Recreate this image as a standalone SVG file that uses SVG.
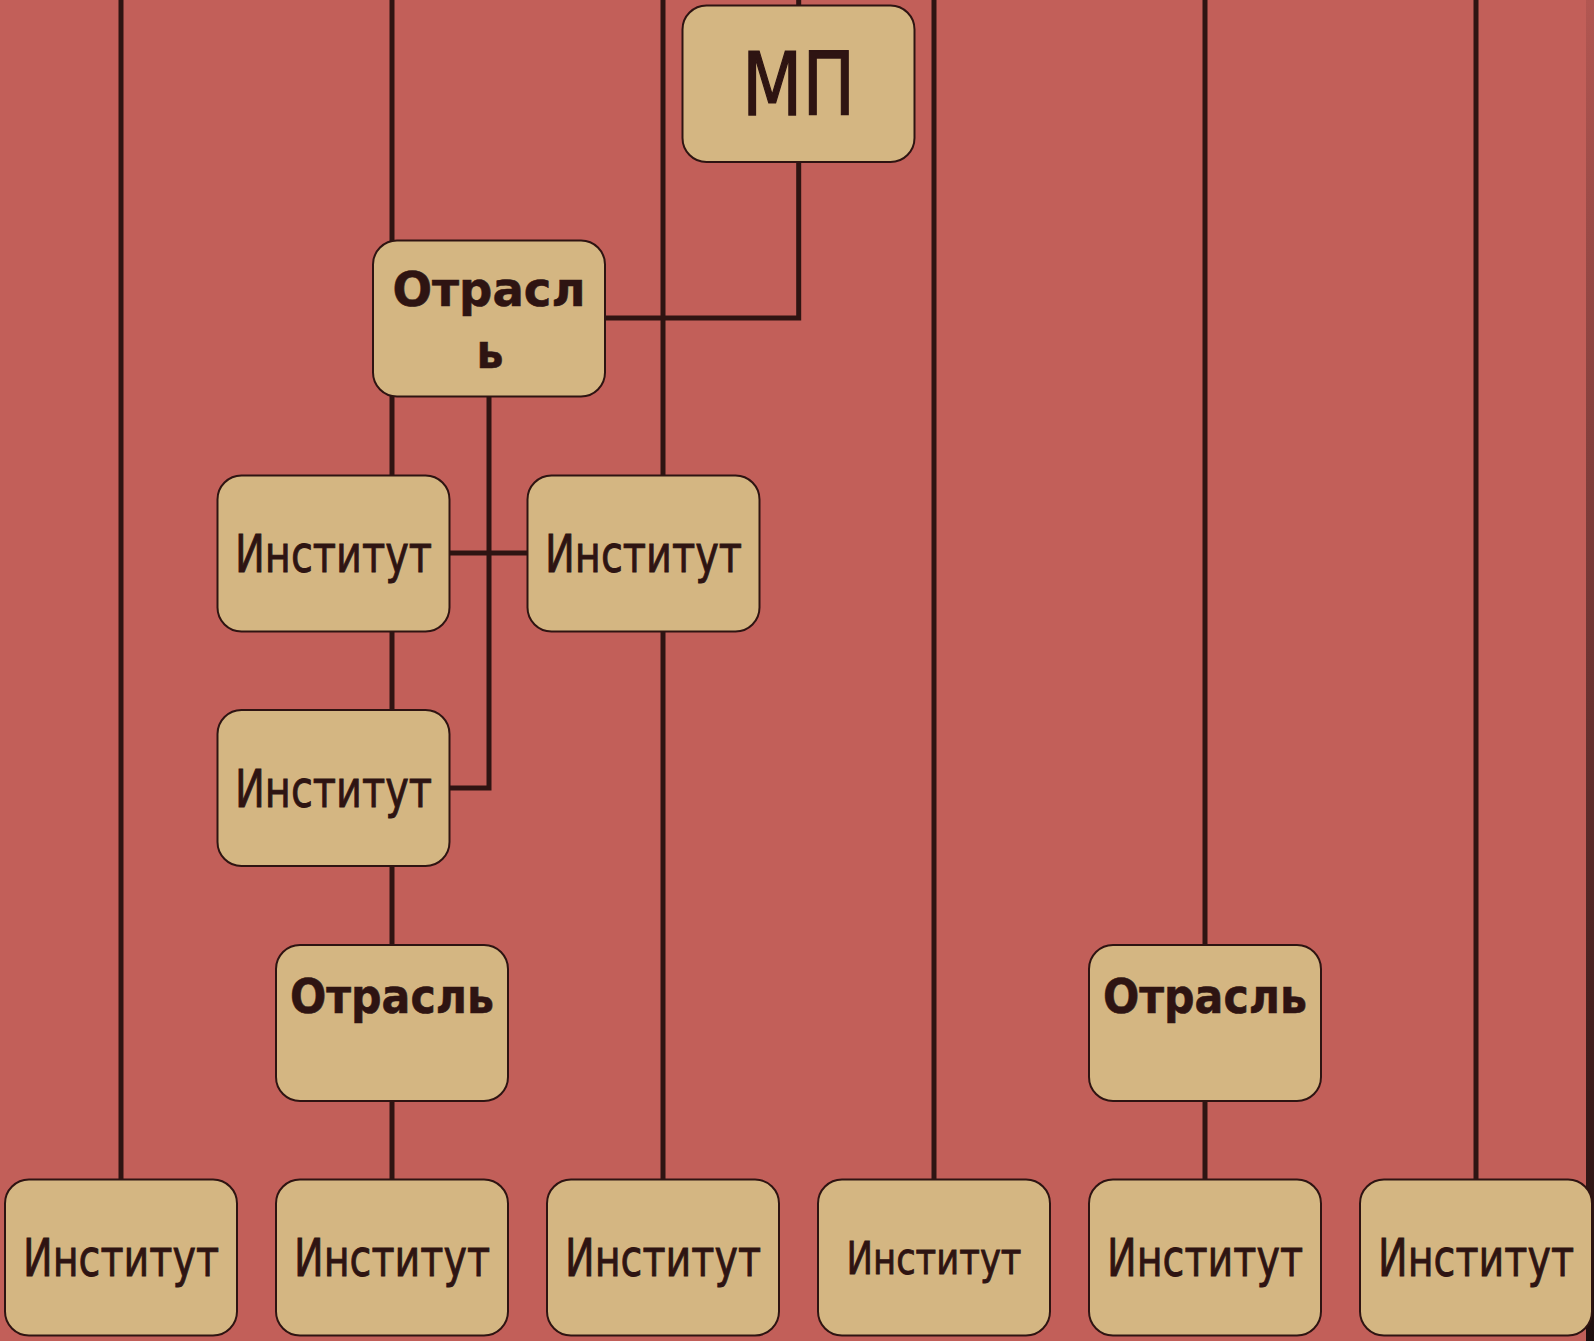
<svg xmlns="http://www.w3.org/2000/svg" width="1594" height="1341" viewBox="0 0 1594 1341">
<defs>
<linearGradient id="edge" x1="0" y1="0" x2="0" y2="1">
<stop offset="0" stop-color="#b25752"/>
<stop offset="0.5" stop-color="#6c3432"/>
<stop offset="1" stop-color="#1e0e0e"/>
</linearGradient>
<style>
.box{fill:#d4b682;stroke:#2e1412;stroke-width:2}
.ln{fill:none;stroke:#2e1412;stroke-width:5}
.t{font-family:"DejaVu Sans","Liberation Sans",sans-serif;fill:#2e1412;stroke:#2e1412;stroke-width:0.9;text-anchor:middle}
.r{font-size:51px}
.s{font-size:44px}
.b{font-size:48px;font-weight:bold;stroke-width:0.6}
.m{font-size:87px;stroke-width:1.4}
</style>
</defs>
<rect width="1594" height="1341" fill="#c25f59"/>
<rect x="1586" y="0" width="8" height="1341" fill="url(#edge)"/>
<g id="connectors">
<path class="ln" d="M121 0V1180M392 0V1180M663 0V1180M934 0V1180M1205 0V1180M1476 0V1180"/>
<path class="ln" d="M798.7 0V6M798.7 162V318H605"/>
<path class="ln" d="M489 396V788H450"/>
<path class="ln" d="M450 553H527"/>
</g>
<g id="mp">
<rect class="box" x="682.5" y="5.5" width="232" height="156.5" rx="24"/>
<text class="t m" x="798.5" y="115" textLength="113" lengthAdjust="spacingAndGlyphs">МП</text>
</g>
<g id="otrasl1">
<rect class="box" x="373" y="240.5" width="232" height="156" rx="24"/>
<text class="t b" x="489" y="306" textLength="193" lengthAdjust="spacingAndGlyphs">Отрасл</text>
<text class="t b" x="490" y="368" textLength="27" lengthAdjust="spacingAndGlyphs">ь</text>
</g>
<g id="inst-l1">
<rect class="box" x="217.5" y="475.5" width="232" height="156" rx="24"/>
<text class="t r" x="333.5" y="572" textLength="197" lengthAdjust="spacingAndGlyphs">Институт</text>
</g>
<g id="inst-r1">
<rect class="box" x="527.5" y="475.5" width="232" height="156" rx="24"/>
<text class="t r" x="643.5" y="572" textLength="197" lengthAdjust="spacingAndGlyphs">Институт</text>
</g>
<g id="inst-l2">
<rect class="box" x="217.5" y="710" width="232" height="156" rx="24"/>
<text class="t r" x="333.5" y="806.5" textLength="197" lengthAdjust="spacingAndGlyphs">Институт</text>
</g>
<g id="otrasl2">
<rect class="box" x="276" y="945" width="232" height="156" rx="24"/>
<text class="t b" x="392" y="1012.5" textLength="204" lengthAdjust="spacingAndGlyphs">Отрасль</text>
</g>
<g id="otrasl3">
<rect class="box" x="1089" y="945" width="232" height="156" rx="24"/>
<text class="t b" x="1205" y="1012.5" textLength="204" lengthAdjust="spacingAndGlyphs">Отрасль</text>
</g>
<g id="inst-b1">
<rect class="box" x="5" y="1179.5" width="232" height="156" rx="24"/>
<text class="t r" x="121" y="1276" textLength="196" lengthAdjust="spacingAndGlyphs">Институт</text>
</g>
<g id="inst-b2">
<rect class="box" x="276" y="1179.5" width="232" height="156" rx="24"/>
<text class="t r" x="392" y="1276" textLength="196" lengthAdjust="spacingAndGlyphs">Институт</text>
</g>
<g id="inst-b3">
<rect class="box" x="547" y="1179.5" width="232" height="156" rx="24"/>
<text class="t r" x="663" y="1276" textLength="196" lengthAdjust="spacingAndGlyphs">Институт</text>
</g>
<g id="inst-b4">
<rect class="box" x="818" y="1179.5" width="232" height="156" rx="24"/>
<text class="t s" x="934" y="1273.5" textLength="175" lengthAdjust="spacingAndGlyphs">Институт</text>
</g>
<g id="inst-b5">
<rect class="box" x="1089" y="1179.5" width="232" height="156" rx="24"/>
<text class="t r" x="1205" y="1276" textLength="196" lengthAdjust="spacingAndGlyphs">Институт</text>
</g>
<g id="inst-b6">
<rect class="box" x="1360" y="1179.5" width="232" height="156" rx="24"/>
<text class="t r" x="1476" y="1276" textLength="196" lengthAdjust="spacingAndGlyphs">Институт</text>
</g>
</svg>
